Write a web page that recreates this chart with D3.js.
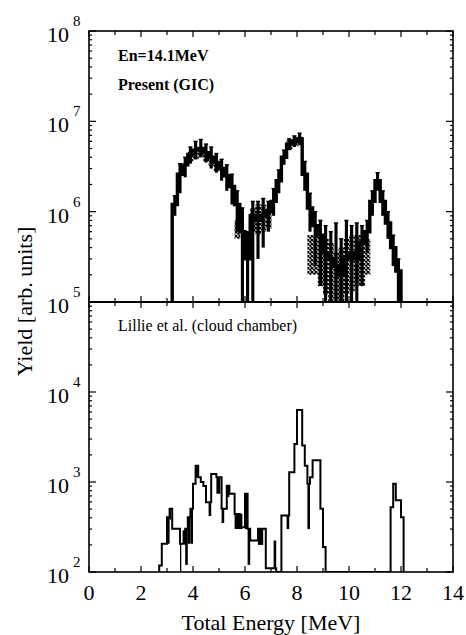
<!DOCTYPE html>
<html><head><meta charset="utf-8">
<script src="https://cdn.jsdelivr.net/npm/d3@7"></script>
<style>html,body{margin:0;padding:0;background:#fff;}svg{display:block;} text{font-family:"Liberation Serif","Times New Roman",Times,serif;}</style>
</head><body>
<script>
// ---------------- DATA ----------------
const xTickValues = [0, 2, 4, 6, 8, 10, 12, 14];
const topDecades = [5, 6, 7, 8];
const botDecades = [2, 3, 4];
const topLabels = ["En=14.1MeV", "Present (GIC)"];
const botLabel = "Lillie et al. (cloud chamber)";
const xTitle = "Total Energy [MeV]";
const yTitle = "Yield [arb. units]";

// Top panel (GIC): bin starts, bin width 0.2 MeV
const topBinWidth = 0.2;
const topE = [3.2,3.4,3.6,3.8,4.0,4.2,4.4,4.6,4.8,5.0,5.2,5.4,5.6,5.8,6.0,6.2,6.4,6.6,6.8,7.0,7.2,7.4,7.6,7.8,8.0,8.2,8.4,8.6,8.8,9.0,9.2,9.4,9.6,9.8,10.0,10.2,10.4,10.6,10.8,11.0,11.2,11.4,11.6,11.8];
const topVal = [1.2e6,2.6e6,3.3e6,4.3e6,4.8e6,5.0e6,4.5e6,4.0e6,3.5e6,3.0e6,2.5e6,1.9e6,1.2e6,6e5,3e5,9e5,8e5,9e5,1.0e6,1.3e6,2.2e6,4.0e6,5.6e6,6.0e6,6.4e6,2.6e6,1.1e6,7e5,5.5e5,3.5e5,3e5,2.5e5,2e5,3e5,3.5e5,3e5,4.5e5,6e5,1.3e6,2.2e6,1.3e6,7.5e5,4e5,2.2e5];
const topLo = [9e5,1.6e6,2.4e6,3.4e6,3.8e6,4.0e6,3.5e6,3.0e6,2.7e6,2.2e6,1.7e6,1.2e6,6e5,1e5,1e5,1e5,3e5,4e5,6e5,9e5,1.6e6,3.3e6,4.8e6,5.2e6,5.5e6,1.7e6,6e5,2.5e5,1.5e5,1e5,1e5,1e5,1e5,1e5,1e5,1e5,1.5e5,3.5e5,9e5,1.7e6,9e5,5e5,2.5e5,1e5];
const topHi = [1.5e6,3.4e6,4.0e6,5.2e6,6.0e6,6.3e6,5.6e6,5.2e6,4.4e6,3.8e6,3.3e6,2.6e6,1.7e6,1.1e6,6e5,1.3e6,1.3e6,1.4e6,1.3e6,1.8e6,2.9e6,4.8e6,6.4e6,6.9e6,7.4e6,3.6e6,1.6e6,1.0e6,8e5,7e5,6e5,7.5e5,5e5,8e5,7e5,7.5e5,7e5,8e5,1.7e6,2.7e6,1.7e6,1.0e6,5.5e5,3e5];
const bandLo = [null,null,null,3.6e6,3.8e6,4.0e6,3.6e6,3.2e6,2.8e6,null,null,null,5e5,null,null,6e5,5.5e5,6e5,6.5e5,null,null,null,4.8e6,5.2e6,5.4e6,null,2e5,2e5,1.5e5,1.2e5,1e5,1e5,1e5,1.2e5,1.3e5,1.5e5,1.5e5,2e5,null,null,null,null,null,null];
const bandHi = [null,null,null,4.6e6,5.0e6,5.0e6,4.6e6,4.2e6,3.6e6,null,null,null,8e5,null,null,1.1e6,1.2e6,1.2e6,1.1e6,null,null,null,6.2e6,6.6e6,6.8e6,null,5.5e5,5.5e5,5.5e5,5e5,4.5e5,3.5e5,4e5,5e5,5.5e5,5.5e5,5.5e5,5e5,null,null,null,null,null,null];

// Bottom panel (Lillie et al.): histogram bin edges and contents
const botEdges = [2.7,2.8,2.9,3.0,3.1,3.2,3.5,3.6,3.7,3.8,3.9,4.0,4.1,4.2,4.3,4.4,4.5,4.7,4.9,5.1,5.3,5.4,5.6,5.8,6.0,6.1,6.2,6.5,6.8,7.1,7.2,7.4,7.7,7.9,8.0,8.2,8.3,8.4,8.5,8.6,8.9,9.0,9.1,11.6,11.7,11.8,12.0,12.1];
const botVal = [118,206,206,407,503,302,206,206,302,407,503,955,1520,1130,1000,900,596,1230,1130,503,910,740,442,315,740,302,224,302,110,110,100,425,1280,2640,6300,2540,1520,955,1130,1740,503,190,100,525,955,625,407];
// Bottom panel filled (black) error ranges
const botErrStart = [3.0,3.1,3.5,3.6,3.7,3.8,3.9,4.1,4.6,4.9,5.1,5.3,5.6,6.0,6.1,6.5,7.1,7.6,8.4];
const botErrEnd   = [3.1,3.15,3.55,3.7,3.8,3.9,4.0,4.2,4.7,5.05,5.2,5.4,5.9,6.1,6.2,6.7,7.2,7.7,8.5];
const botErrLo    = [206,380,100,206,120,206,206,1130,420,740,350,680,300,300,120,200,110,300,300];
const botErrHi    = [407,503,206,290,302,407,503,1520,596,1130,503,910,442,740,302,302,224,425,955];

// ---------------- CHART ----------------
(function () {
const W = 466, H = 635;
const FONT = "Liberation Serif, Times New Roman, Times, serif";
const svg = d3.select("body").append("svg").attr("width", W).attr("height", H)
  .attr("font-family", FONT);

const pL = 89, pR = 453, pT = 31, pM = 302, pB = 572;
const x = d3.scaleLinear().domain([0, 14]).range([pL, pR]);
const yTop = d3.scaleLog().domain([1e5, 1e8]).range([pM, pT]).clamp(true);
const yBot = d3.scaleLog().domain([1e2, 1e5]).range([pB, pM]).clamp(true);

const defs = svg.append("defs");
const pat = defs.append("pattern").attr("id", "hatch").attr("patternUnits", "userSpaceOnUse")
  .attr("width", 4).attr("height", 4);
pat.append("rect").attr("width", 4).attr("height", 4).attr("fill", "#fff");
pat.append("path").attr("d", "M0,0L4,4M4,0L0,4").attr("stroke", "#000").attr("stroke-width", 1.3);

defs.append("clipPath").attr("id", "clipTop").append("rect")
  .attr("x", pL).attr("y", pT).attr("width", pR - pL).attr("height", pM - pT);
defs.append("clipPath").attr("id", "clipBot").append("rect")
  .attr("x", pL).attr("y", pM).attr("width", pR - pL).attr("height", pB - pM);

// ---- top panel ----
const gTop = svg.append("g").attr("clip-path", "url(#clipTop)");
const bw = x(topBinWidth) - x(0);
gTop.selectAll("rect.band").data(topE.map((e, i) => ({e, lo: bandLo[i], hi: bandHi[i]})).filter(d => d.lo != null))
  .join("rect").attr("class", "band")
  .attr("x", d => x(d.e)).attr("width", bw + 0.5)
  .attr("y", d => yTop(d.hi)).attr("height", d => yTop(d.lo) - yTop(d.hi))
  .attr("fill", "url(#hatch)");
const topData = topE.map((e, i) => ({e, v: topVal[i], lo: topLo[i], hi: topHi[i]}));
gTop.selectAll("rect.err").data(topData).join("rect").attr("class", "err")
  .attr("x", d => x(d.e + topBinWidth * 0.2)).attr("width", bw * 0.6)
  .attr("y", d => yTop(d.hi)).attr("height", d => yTop(d.lo) - yTop(d.hi))
  .attr("fill", "#000");
gTop.selectAll("line.cap").data(topData).join("line").attr("class", "cap")
  .attr("x1", d => x(d.e + topBinWidth * 0.1)).attr("x2", d => x(d.e + topBinWidth * 0.9))
  .attr("y1", d => yTop(d.hi)).attr("y2", d => yTop(d.hi))
  .attr("stroke", "#000").attr("stroke-width", 1.4);
function stepPath(starts, ends, vals, y) {
  const p = d3.path();
  p.moveTo(x(starts[0]), y.range()[0]);
  for (let i = 0; i < vals.length; i++) {
    p.lineTo(x(starts[i]), y(vals[i]));
    p.lineTo(x(ends[i]), y(vals[i]));
  }
  p.lineTo(x(ends[ends.length - 1]), y.range()[0]);
  return p.toString();
}
gTop.append("path")
  .attr("d", stepPath(topE, topE.map(e => e + topBinWidth), topVal, yTop))
  .attr("fill", "none").attr("stroke", "#000").attr("stroke-width", 3.4);

// ---- bottom panel ----
const gBot = svg.append("g").attr("clip-path", "url(#clipBot)");
gBot.selectAll("rect.berr").data(botErrStart.map((s, i) => ({s, e: botErrEnd[i], lo: botErrLo[i], hi: botErrHi[i]})))
  .join("rect").attr("class", "berr")
  .attr("x", d => x(d.s)).attr("width", d => x(d.e) - x(d.s))
  .attr("y", d => yBot(d.hi)).attr("height", d => yBot(d.lo) - yBot(d.hi))
  .attr("fill", "#000");
gBot.append("path")
  .attr("d", stepPath(botEdges.slice(0, -1), botEdges.slice(1), botVal, yBot))
  .attr("fill", "none").attr("stroke", "#000").attr("stroke-width", 2);

// ---- frame & ticks ----
const frame = svg.append("g").attr("stroke", "#000").attr("fill", "none");
frame.append("rect").attr("x", pL).attr("y", pT).attr("width", pR - pL).attr("height", pB - pT)
  .attr("stroke-width", 1.6);
frame.append("line").attr("x1", pL).attr("x2", pR).attr("y1", pM).attr("y2", pM).attr("stroke-width", 2);

x.ticks(14).forEach(v => {
  const L = (v % 2 === 0) ? 6 : 4;
  frame.append("line").attr("x1", x(v)).attr("x2", x(v)).attr("y1", pT).attr("y2", pT + L).attr("stroke-width", 1.2);
  frame.append("line").attr("x1", x(v)).attr("x2", x(v)).attr("y1", pB).attr("y2", pB - L).attr("stroke-width", 1.2);
  frame.append("line").attr("x1", x(v)).attr("x2", x(v)).attr("y1", pM - L).attr("y2", pM + L).attr("stroke-width", 1.2);
});
function yTicks(y) {
  const [lo, hi] = y.domain();
  y.ticks().forEach(t => {
    if (t < lo || t > hi) return;
    const major = Math.abs(Math.log10(t) - Math.round(Math.log10(t))) < 1e-9;
    const L = major ? 7 : 3;
    frame.append("line").attr("x1", pL).attr("x2", pL + L).attr("y1", y(t)).attr("y2", y(t)).attr("stroke-width", 1.2);
    frame.append("line").attr("x1", pR).attr("x2", pR - L).attr("y1", y(t)).attr("y2", y(t)).attr("stroke-width", 1.2);
  });
}
yTicks(yTop); yTicks(yBot);

// ---- labels ----
const txt = svg.append("g").attr("fill", "#000").attr("font-family", FONT);
xTickValues.forEach(v => {
  txt.append("text").attr("x", x(v)).attr("y", 600).attr("text-anchor", "middle")
    .attr("font-size", 22).text(v);
});
function decLabel(y, d) {
  const yy = y(Math.pow(10, d));
  txt.append("text").attr("x", 69).attr("y", yy + 11).attr("text-anchor", "end").attr("font-size", 22).text("10");
  txt.append("text").attr("x", 73).attr("y", yy - 5).attr("font-size", 15).text(d);
}
topDecades.forEach(d => decLabel(yTop, d));
botDecades.forEach(d => decLabel(yBot, d));

txt.append("text").attr("x", x(7)).attr("y", 630).attr("text-anchor", "middle").attr("font-size", 22).text(xTitle);
txt.append("text").attr("transform", `translate(32,${(pT + pB) / 2}) rotate(-90)`)
  .attr("text-anchor", "middle").attr("font-size", 22).text(yTitle);

txt.append("text").attr("x", 118).attr("y", 61).attr("font-size", 16).attr("font-weight", "bold").text(topLabels[0]);
txt.append("text").attr("x", 118).attr("y", 90).attr("font-size", 16).attr("font-weight", "bold").text(topLabels[1]);
txt.append("text").attr("x", 118).attr("y", 331).attr("font-size", 16).text(botLabel);
})();
</script>
</body></html>
